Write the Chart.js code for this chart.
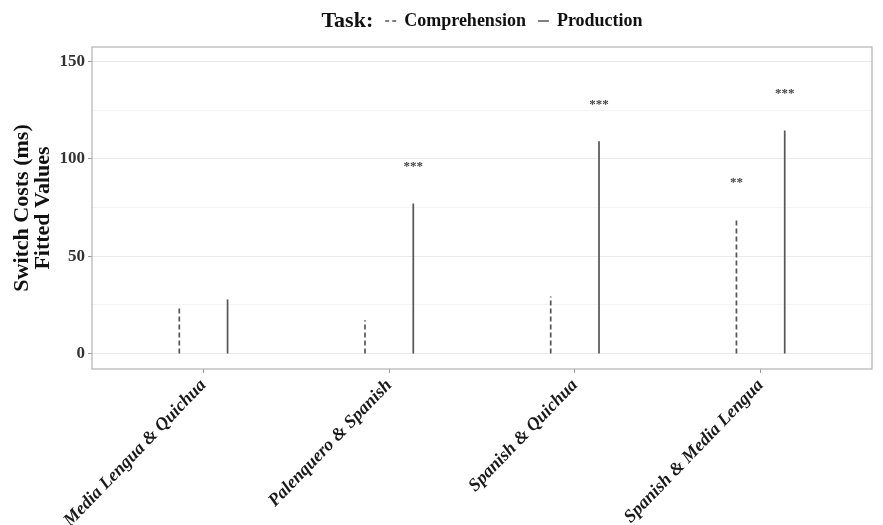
<!DOCTYPE html>
<html>
<head>
<meta charset="utf-8">
<script src="https://cdn.jsdelivr.net/npm/chart.js@4.4.1/dist/chart.umd.min.js"></script>
<style>
  html, body { margin: 0; padding: 0; background: #fff; }
  #wrap { width: 883px; height: 525px; }
</style>
</head>
<body>
<div id="wrap"><canvas id="chart"></canvas></div>
<script>
// ---- data ----
const categories = ['Media Lengua & Quichua', 'Palenquero & Spanish', 'Spanish & Quichua', 'Spanish & Media Lengua'];
const comprehension = [23.6, 17, 29.3, 69];
const production = [27.7, 77, 109, 114.6];
const comprehensionStars = ['', '', '', '**'];
const productionStars = ['', '***', '***', '***'];
const yTicks = [0, 25, 50, 75, 100, 125, 150];

const SERIF = '"Liberation Serif", "DejaVu Serif", serif';
const DODGE = 0.13;
const LINE_COLOR = '#555555';

// vertical segments from 0 to each value, broken by a null point
function segments(values, offset) {
    const pts = [];
    values.forEach((v, i) => {
        const x = i + 1 + offset;
        pts.push({x: x, y: 0}, {x: x, y: v}, {x: x, y: null});
    });
    return pts;
}

// panel border, stars and the top legend
const extras = {
    id: 'extras',
    afterDraw(chart) {
        const {ctx, chartArea: a, scales: {x, y}} = chart;
        ctx.save();
        ctx.strokeStyle = '#b3b3b3';
        ctx.lineWidth = 1.2;
        ctx.strokeRect(a.left, a.top, a.right - a.left, a.bottom - a.top);

        ctx.fillStyle = '#444';
        ctx.font = 'bold 13px ' + SERIF;
        ctx.textAlign = 'center';
        ctx.textBaseline = 'middle';
        const drawStars = (stars, values, offset) => {
            stars.forEach((s, i) => {
                if (!s) return;
                ctx.fillText(s, x.getPixelForValue(i + 1 + offset), y.getPixelForValue(values[i] + 20) + 2);
            });
        };
        drawStars(comprehensionStars, comprehension, -DODGE);
        drawStars(productionStars, production, DODGE);

        // legend: Task:  -- Comprehension  — Production
        const cy = 21;
        ctx.textBaseline = 'middle';
        ctx.textAlign = 'left';
        ctx.font = 'bold 22px ' + SERIF;
        const wTask = ctx.measureText('Task:').width;
        ctx.font = 'bold 18px ' + SERIF;
        const wComp = ctx.measureText('Comprehension').width;
        const wProd = ctx.measureText('Production').width;
        const sym = 11, g1 = 12, g2 = 8, g3 = 12;
        const total = wTask + g1 + sym + g2 + wComp + g3 + sym + g2 + wProd;
        let cx = (a.left + a.right) / 2 - total / 2;
        ctx.fillStyle = '#111';
        ctx.font = 'bold 22px ' + SERIF;
        ctx.fillText('Task:', cx, cy);
        cx += wTask + g1;
        ctx.strokeStyle = LINE_COLOR;
        ctx.lineWidth = 1.5;
        ctx.setLineDash([4, 3]);
        ctx.beginPath(); ctx.moveTo(cx, cy); ctx.lineTo(cx + sym, cy); ctx.stroke();
        ctx.setLineDash([]);
        cx += sym + g2;
        ctx.font = 'bold 18px ' + SERIF;
        ctx.fillText('Comprehension', cx, cy);
        cx += wComp + g3;
        ctx.beginPath(); ctx.moveTo(cx, cy); ctx.lineTo(cx + sym, cy); ctx.stroke();
        cx += sym + g2;
        ctx.fillText('Production', cx, cy);
        ctx.restore();
    }
};

new Chart(document.getElementById('chart'), {
    type: 'scatter',
    data: {
        datasets: [
            {
                label: 'Comprehension',
                data: segments(comprehension, -DODGE),
                showLine: true,
                spanGaps: false,
                borderColor: LINE_COLOR,
                borderWidth: 1.7,
                borderDash: [5, 3],
                pointRadius: 0
            },
            {
                label: 'Production',
                data: segments(production, DODGE),
                showLine: true,
                spanGaps: false,
                borderColor: LINE_COLOR,
                borderWidth: 1.7,
                pointRadius: 0
            }
        ]
    },
    options: {
        responsive: true,
        maintainAspectRatio: false,
        animation: false,
        layout: {padding: {top: 47, right: 11, left: 0, bottom: 0}},
        plugins: {
            legend: {display: false},
            tooltip: {enabled: false}
        },
        scales: {
            x: {
                type: 'linear',
                min: 0.4,
                max: 4.6,
                afterBuildTicks: (scale) => { scale.ticks = categories.map((c, i) => ({value: i + 1})); },
                afterFit: (scale) => { scale.height = 156; },
                ticks: {
                    autoSkip: false,
                    minRotation: 46,
                    maxRotation: 46,
                    padding: 2,
                    color: '#1a1a1a',
                    font: {family: SERIF, size: 18, weight: 'bold', style: 'italic'},
                    callback: (v) => categories[Math.round(v) - 1]
                },
                grid: {drawOnChartArea: false, drawTicks: true, tickLength: 4, tickColor: '#999', color: '#999'},
                border: {display: false}
            },
            y: {
                min: -8,
                max: 157.5,
                afterBuildTicks: (scale) => { scale.ticks = yTicks.map(v => ({value: v})); },
                afterFit: (scale) => { scale.width = 92; },
                ticks: {
                    color: '#333',
                    padding: 3,
                    font: {family: SERIF, size: 17, weight: 'bold'},
                    callback: (v) => (v % 50 === 0 ? v : '')
                },
                grid: {
                    tickLength: 4,
                    color: (ctx) => (ctx.tick && ctx.tick.value % 50 === 0 ? '#ebebeb' : '#f4f4f4'),
                    tickColor: (ctx) => (ctx.tick && ctx.tick.value % 50 === 0 ? '#999' : 'rgba(0,0,0,0)')
                },
                border: {display: false},
                title: {
                    display: true,
                    text: ['Switch Costs (ms)', 'Fitted Values'],
                    color: '#111',
                    padding: {top: 12, bottom: 0},
                    font: {family: SERIF, size: 22, weight: 'bold', lineHeight: 0.95}
                }
            }
        }
    },
    plugins: [extras]
});
</script>
</body>
</html>
